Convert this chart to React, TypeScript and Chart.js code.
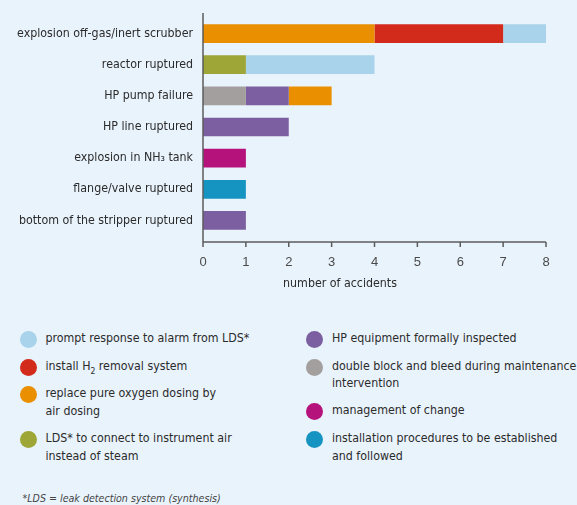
import React, { useEffect, useRef } from "react";
import { Chart, registerables } from "chart.js";
Chart.register(...registerables);

// ---------- data ----------
const categories = [
  "explosion off-gas/inert scrubber",
  "reactor ruptured",
  "HP pump failure",
  "HP line ruptured",
  "explosion in NH₃ tank",
  "flange/valve ruptured",
  "bottom of the stripper ruptured",
];

const doubleBlock = [0, 0, 1, 0, 0, 0, 0];
const ldsInstrumentAir = [0, 1, 0, 0, 0, 0, 0];
const hpInspected = [0, 0, 1, 2, 0, 0, 1];
const replaceOxygen = [4, 0, 1, 0, 0, 0, 0];
const installH2 = [3, 0, 0, 0, 0, 0, 0];
const promptResponse = [1, 3, 0, 0, 0, 0, 0];
const managementChange = [0, 0, 0, 0, 1, 0, 0];
const installationProc = [0, 0, 0, 0, 0, 1, 0];

const xTicks = [0, 1, 2, 3, 4, 5, 6, 7, 8];
const xTitle = "number of accidents";
const footnote = "*LDS = leak detection system (synthesis)";

// ---------- styles ----------
const BG = "#e9f3fc";
const TEXT = "#2b2b2b";
const FONT = '"DejaVu Sans Condensed", "Liberation Sans Narrow", "Liberation Sans", sans-serif';
const FS = 12.3;

const C = {
  lightblue: "#a8d3ea",
  red: "#d22a1b",
  orange: "#e98f00",
  olive: "#9da636",
  purple: "#7b5fa1",
  gray: "#a39f9e",
  magenta: "#b5127b",
  teal: "#1694c1",
};

const datasets = [
  { label: "double block and bleed during maintenance\nintervention", data: doubleBlock, color: C.gray },
  { label: "LDS* to connect to instrument air\ninstead of steam", data: ldsInstrumentAir, color: C.olive },
  { label: "HP equipment formally inspected", data: hpInspected, color: C.purple },
  { label: "replace pure oxygen dosing by\nair dosing", data: replaceOxygen, color: C.orange },
  { label: "install H₂ removal system", data: installH2, color: C.red },
  { label: "prompt response to alarm from LDS*", data: promptResponse, color: C.lightblue },
  { label: "management of change", data: managementChange, color: C.magenta },
  { label: "installation procedures to be established\nand followed", data: installationProc, color: C.teal },
];

// legend order and placement (layout only)
const legendLeft = [5, 4, 3, 1];
const legendRight = [2, 0, 6, 7];
const leftRows = [339, 366.5, 394, 439];
const rightRows = [339, 366.5, 411, 439];
const LINE_H = 17.5;

const axesPlugin = {
  id: "customAxes",
  afterDatasetsDraw(chart: any) {
    const { ctx, chartArea, scales } = chart;
    const x = scales.x;
    const x0 = x.getPixelForValue(xTicks[0]);
    const x1 = x.getPixelForValue(xTicks[xTicks.length - 1]);
    const yb = chartArea.bottom + 6;
    ctx.save();
    ctx.strokeStyle = "#5c5c5c";
    ctx.lineWidth = 1.5;
    ctx.beginPath();
    ctx.moveTo(x0, chartArea.top - 5);
    ctx.lineTo(x0, yb + 5);
    ctx.moveTo(x0, yb);
    ctx.lineTo(x1, yb);
    xTicks.forEach((t) => {
      const px = x.getPixelForValue(t);
      ctx.moveTo(px, yb);
      ctx.lineTo(px, yb + 5);
    });
    ctx.stroke();
    ctx.fillStyle = TEXT;
    ctx.font = `${FS}px ${FONT}`;
    ctx.textAlign = "center";
    ctx.textBaseline = "middle";
    ctx.fillText(xTitle, 340, 284);
    ctx.restore();
  },
};

function renderLabel(text: string) {
  return text.split("\n").map((line, i) => {
    const parts = line.split("₂");
    return (
      <div key={i} style={{ height: LINE_H, lineHeight: `${LINE_H}px`, whiteSpace: "nowrap" }}>
        {parts.map((p, j) => (
          <React.Fragment key={j}>
            {p}
            {j < parts.length - 1 ? (
              <span style={{ fontSize: 8.5, position: "relative", top: 4 }}>2</span>
            ) : null}
          </React.Fragment>
        ))}
      </div>
    );
  });
}

export default function App() {
  const ref = useRef<HTMLCanvasElement>(null);

  useEffect(() => {
    document.body.style.margin = "0";
    const chart = new Chart(ref.current!, {
      type: "bar",
      data: {
        labels: categories,
        datasets: datasets.map((d) => ({
          label: d.label,
          data: d.data,
          backgroundColor: d.color,
          borderWidth: 0,
          barPercentage: 0.6,
          categoryPercentage: 1,
        })),
      },
      options: {
        indexAxis: "y",
        responsive: false,
        animation: false,
        devicePixelRatio: 1,
        layout: { padding: { top: 18, right: 31, left: 0, bottom: 0 } },
        plugins: { legend: { display: false }, tooltip: { enabled: false } },
        scales: {
          x: {
            stacked: true,
            min: 0,
            max: 8,
            grid: { display: false, drawTicks: false },
            border: { display: false },
            ticks: {
              stepSize: 1,
              padding: 19,
              color: "#4a4a4a",
              font: { family: '"Liberation Sans", sans-serif', size: 13 },
            },
            afterFit: (s: any) => {
              s.height = 64;
            },
          },
          y: {
            stacked: true,
            grid: { display: false, drawTicks: false },
            border: { display: false },
            ticks: {
              padding: 10,
              color: TEXT,
              font: { family: FONT, size: FS },
            },
            afterFit: (s: any) => {
              s.width = 203;
            },
          },
        },
      },
      plugins: [axesPlugin],
    });
    return () => chart.destroy();
  }, []);

  const item = (idx: number, top: number, circleX: number, textX: number) => {
    const d = datasets[idx];
    return (
      <div key={idx}>
        <div
          style={{
            position: "absolute",
            left: circleX - 8.5,
            top: top - 8,
            width: 17,
            height: 17,
            borderRadius: "50%",
            background: d.color,
          }}
        />
        <div style={{ position: "absolute", left: textX, top: top - LINE_H / 2 }}>{renderLabel(d.label)}</div>
      </div>
    );
  };

  return (
    <div
      style={{
        position: "relative",
        width: 577,
        height: 505,
        background: BG,
        overflow: "hidden",
        fontFamily: FONT,
        fontSize: FS,
        color: TEXT,
      }}
    >
      <canvas ref={ref} width={577} height={300} style={{ display: "block" }} />
      {legendLeft.map((idx, i) => item(idx, leftRows[i], 28.7, 45.5))}
      {legendRight.map((idx, i) => item(idx, rightRows[i], 314, 332))}
      <div
        style={{
          position: "absolute",
          left: 22.5,
          top: 498 - 8,
          height: 16,
          lineHeight: "16px",
          fontStyle: "italic",
          fontSize: 10.6,
          color: "#444",
          whiteSpace: "nowrap",
        }}
      >
        {footnote}
      </div>
    </div>
  );
}
